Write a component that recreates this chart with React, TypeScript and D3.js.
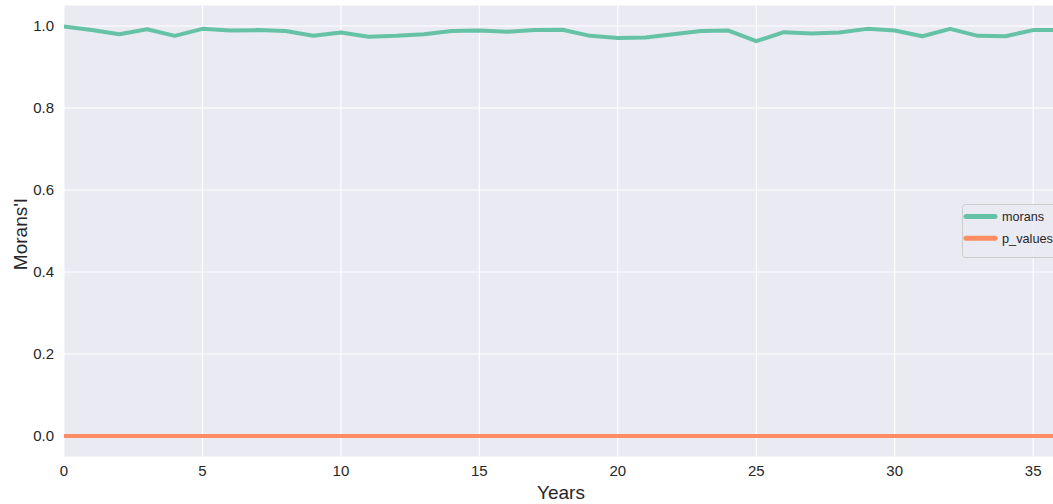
import React from "react";
import * as d3 from "d3";

// Moran's I per year and the matching p-values
const years: number[] = Array.from({ length: 37 }, (_, i) => i);
const morans: number[] = [
  0.999, 0.99, 0.98, 0.992, 0.976, 0.993, 0.989, 0.99, 0.988, 0.976,
  0.984, 0.974, 0.976, 0.98, 0.988, 0.989, 0.986, 0.99, 0.991, 0.976,
  0.971, 0.972, 0.98, 0.988, 0.989, 0.963, 0.985, 0.982, 0.984, 0.993,
  0.989, 0.975, 0.993, 0.976, 0.975, 0.99, 0.99,
];
const pValues: number[] = years.map(() => 0);

const xTicks = [0, 5, 10, 15, 20, 25, 30, 35];
const yTicks = [0.0, 0.2, 0.4, 0.6, 0.8, 1.0];

const seriesNames = ["morans", "p_values"];
const seriesColors = ["#66c2a5", "#fc8d62"];

const W = 1053;
const H = 504;
const left = 64;
const top = 5.5;
const bottom = 456.5;
const pxPerYear = 27.69;

export default function App() {
  const x = d3.scaleLinear().domain([0, 36]).range([left, left + 36 * pxPerYear]);
  const y = d3.scaleLinear().domain([-0.05, 1.05]).range([bottom, top]);
  const plotRight = x(36);

  const line = d3
    .line<number>()
    .x((_, i) => x(years[i]))
    .y((d) => y(d));

  const font = "'Liberation Sans', Arial, sans-serif";
  const seriesData = [morans, pValues];

  return (
    <svg
      width={W}
      height={H}
      style={{ position: "absolute", left: 0, top: 0, background: "#fff" }}
      fontFamily={font}
    >
      <defs>
        <clipPath id="plot">
          <rect x={left} y={top} width={plotRight - left} height={bottom - top} />
        </clipPath>
      </defs>
      <rect x={left} y={top} width={plotRight - left} height={bottom - top} fill="#eaeaf2" />
      {xTicks.map((t) => (
        <line key={"gx" + t} x1={x(t)} x2={x(t)} y1={top} y2={bottom} stroke="#fff" strokeWidth={1.1} />
      ))}
      {yTicks.map((t) => (
        <line key={"gy" + t} x1={left} x2={plotRight} y1={y(t)} y2={y(t)} stroke="#fff" strokeWidth={1.1} />
      ))}
      <g clipPath="url(#plot)">
        {seriesData.map((d, i) => (
          <path
            key={seriesNames[i]}
            d={line(d) || ""}
            fill="none"
            stroke={seriesColors[i]}
            strokeWidth={4}
            strokeLinejoin="round"
            strokeLinecap="butt"
          />
        ))}
      </g>
      {xTicks.map((t) => (
        <text key={"tx" + t} x={x(t)} y={476} textAnchor="middle" fontSize={15} fill="#262626">
          {t}
        </text>
      ))}
      {yTicks.map((t) => (
        <text
          key={"ty" + t}
          x={54}
          y={y(t)}
          dy="0.35em"
          textAnchor="end"
          fontSize={15}
          fill="#262626"
        >
          {t.toFixed(1)}
        </text>
      ))}
      <text x={561} y={499} textAnchor="middle" fontSize={19} fill="#262626">
        Years
      </text>
      <text
        transform={`translate(27, 234) rotate(-90)`}
        textAnchor="middle"
        fontSize={19}
        fill="#262626"
      >
        Morans'I
      </text>
      <g>
        <rect x={962.5} y={204.5} width={110} height={53} rx={3} fill="#eaeaf2" fillOpacity={0.8} stroke="#cccccc" strokeWidth={1} />
        {seriesNames.map((name, i) => (
          <g key={"lg" + name}>
            <line
              x1={966}
              x2={995}
              y1={216.5 + i * 21.7}
              y2={216.5 + i * 21.7}
              stroke={seriesColors[i]}
              strokeWidth={5}
              strokeLinecap="round"
            />
            <text x={1002} y={216.5 + i * 21.7} dy="0.35em" fontSize={13} fill="#262626" textLength={i === 0 ? 42 : 51} lengthAdjust="spacingAndGlyphs">
              {name}
            </text>
          </g>
        ))}
      </g>
    </svg>
  );
}
